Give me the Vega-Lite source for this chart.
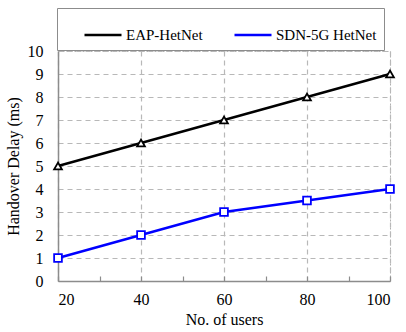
{
  "$schema": "https://vega.github.io/schema/vega-lite/v6.json",
  "width": 332,
  "height": 230,
  "autosize": {"type": "none"},
  "padding": {"left": 58, "top": 51, "right": 16, "bottom": 51},
  "background": "white",
  "config": {
    "font": "Liberation Serif",
    "view": {"stroke": "#b0b0b0", "strokeDash": [2, 2], "strokeWidth": 1}
  },
  "data": {
    "values": [
      {"users": 20, "delay": 5, "series": "EAP-HetNet"},
      {"users": 40, "delay": 6, "series": "EAP-HetNet"},
      {"users": 60, "delay": 7, "series": "EAP-HetNet"},
      {"users": 80, "delay": 8, "series": "EAP-HetNet"},
      {"users": 100, "delay": 9, "series": "EAP-HetNet"},
      {"users": 20, "delay": 1, "series": "SDN-5G HetNet"},
      {"users": 40, "delay": 2, "series": "SDN-5G HetNet"},
      {"users": 60, "delay": 3, "series": "SDN-5G HetNet"},
      {"users": 80, "delay": 3.5, "series": "SDN-5G HetNet"},
      {"users": 100, "delay": 4, "series": "SDN-5G HetNet"}
    ]
  },
  "encoding": {
    "x": {
      "field": "users", "type": "quantitative",
      "scale": {"domain": [20, 100], "nice": false},
      "axis": {
        "title": "No. of users",
        "values": [20, 30, 40, 50, 60, 70, 80, 90, 100],
        "labelExpr": "datum.value % 20 == 0 ? datum.label : ''",
        "gridOpacity": {"condition": {"test": "datum.value % 20 == 0", "value": 1}, "value": 0},
        "gridColor": "#b8b8b8", "gridDash": [5, 4], "gridWidth": 1.2,
        "domainColor": "#8c8c8c", "domainWidth": 1.5,
        "tickColor": "#8c8c8c", "tickSize": -5, "tickWidth": 1.2,
        "labelPadding": 15, "labelFontSize": 16, "labelColor": "#000",
        "labelFont": "Liberation Serif",
        "titleFont": "Liberation Serif", "titleFontSize": 16, "titleFontWeight": "normal",
        "titleColor": "#000", "titlePadding": 4
      }
    },
    "y": {
      "field": "delay", "type": "quantitative",
      "scale": {"domain": [0, 10], "nice": false},
      "axis": {
        "title": "Handover Delay (ms)",
        "values": [0, 1, 2, 3, 4, 5, 6, 7, 8, 9, 10],
        "gridColor": "#b8b8b8", "gridDash": [5, 4], "gridWidth": 1.2,
        "domainColor": "#8c8c8c", "domainWidth": 1.5,
        "ticks": false,
        "labelPadding": 15, "labelFontSize": 16, "labelColor": "#000",
        "labelFont": "Liberation Serif",
        "titleFont": "Liberation Serif", "titleFontSize": 16, "titleFontWeight": "normal",
        "titleColor": "#000", "titlePadding": 6
      }
    }
  },
  "layer": [
    {
      "mark": {"type": "line", "strokeWidth": 2.5},
      "encoding": {
        "color": {
          "field": "series", "type": "nominal",
          "scale": {"domain": ["EAP-HetNet", "SDN-5G HetNet"], "range": ["#000000", "#0000ff"]},
          "legend": {
            "title": " ",
            "titleOrient": "left",
            "titlePadding": 19,
            "titleFontSize": 15,
            "orient": "none",
            "legendX": -1,
            "legendY": -43,
            "direction": "horizontal",
            "padding": 7,
            "strokeColor": "#8c8c8c",
            "columnPadding": 26,
            "labelFontSize": 15,
            "labelFont": "Liberation Serif",
            "labelColor": "#000",
            "labelOffset": 3,
            "symbolType": "stroke",
            "symbolSize": 1369,
            "symbolStrokeWidth": 2.5
          }
        }
      }
    },
    {
      "mark": {"type": "point", "filled": false, "fill": "white", "fillOpacity": 1, "opacity": 1, "strokeWidth": 1.8, "size": 60},
      "encoding": {
        "stroke": {
          "field": "series", "type": "nominal",
          "scale": {"range": ["#000000", "#0000ff"]},
          "legend": null
        },
        "shape": {
          "field": "series", "type": "nominal",
          "scale": {"range": ["triangle-up", "square"]},
          "legend": null
        }
      }
    }
  ]
}
